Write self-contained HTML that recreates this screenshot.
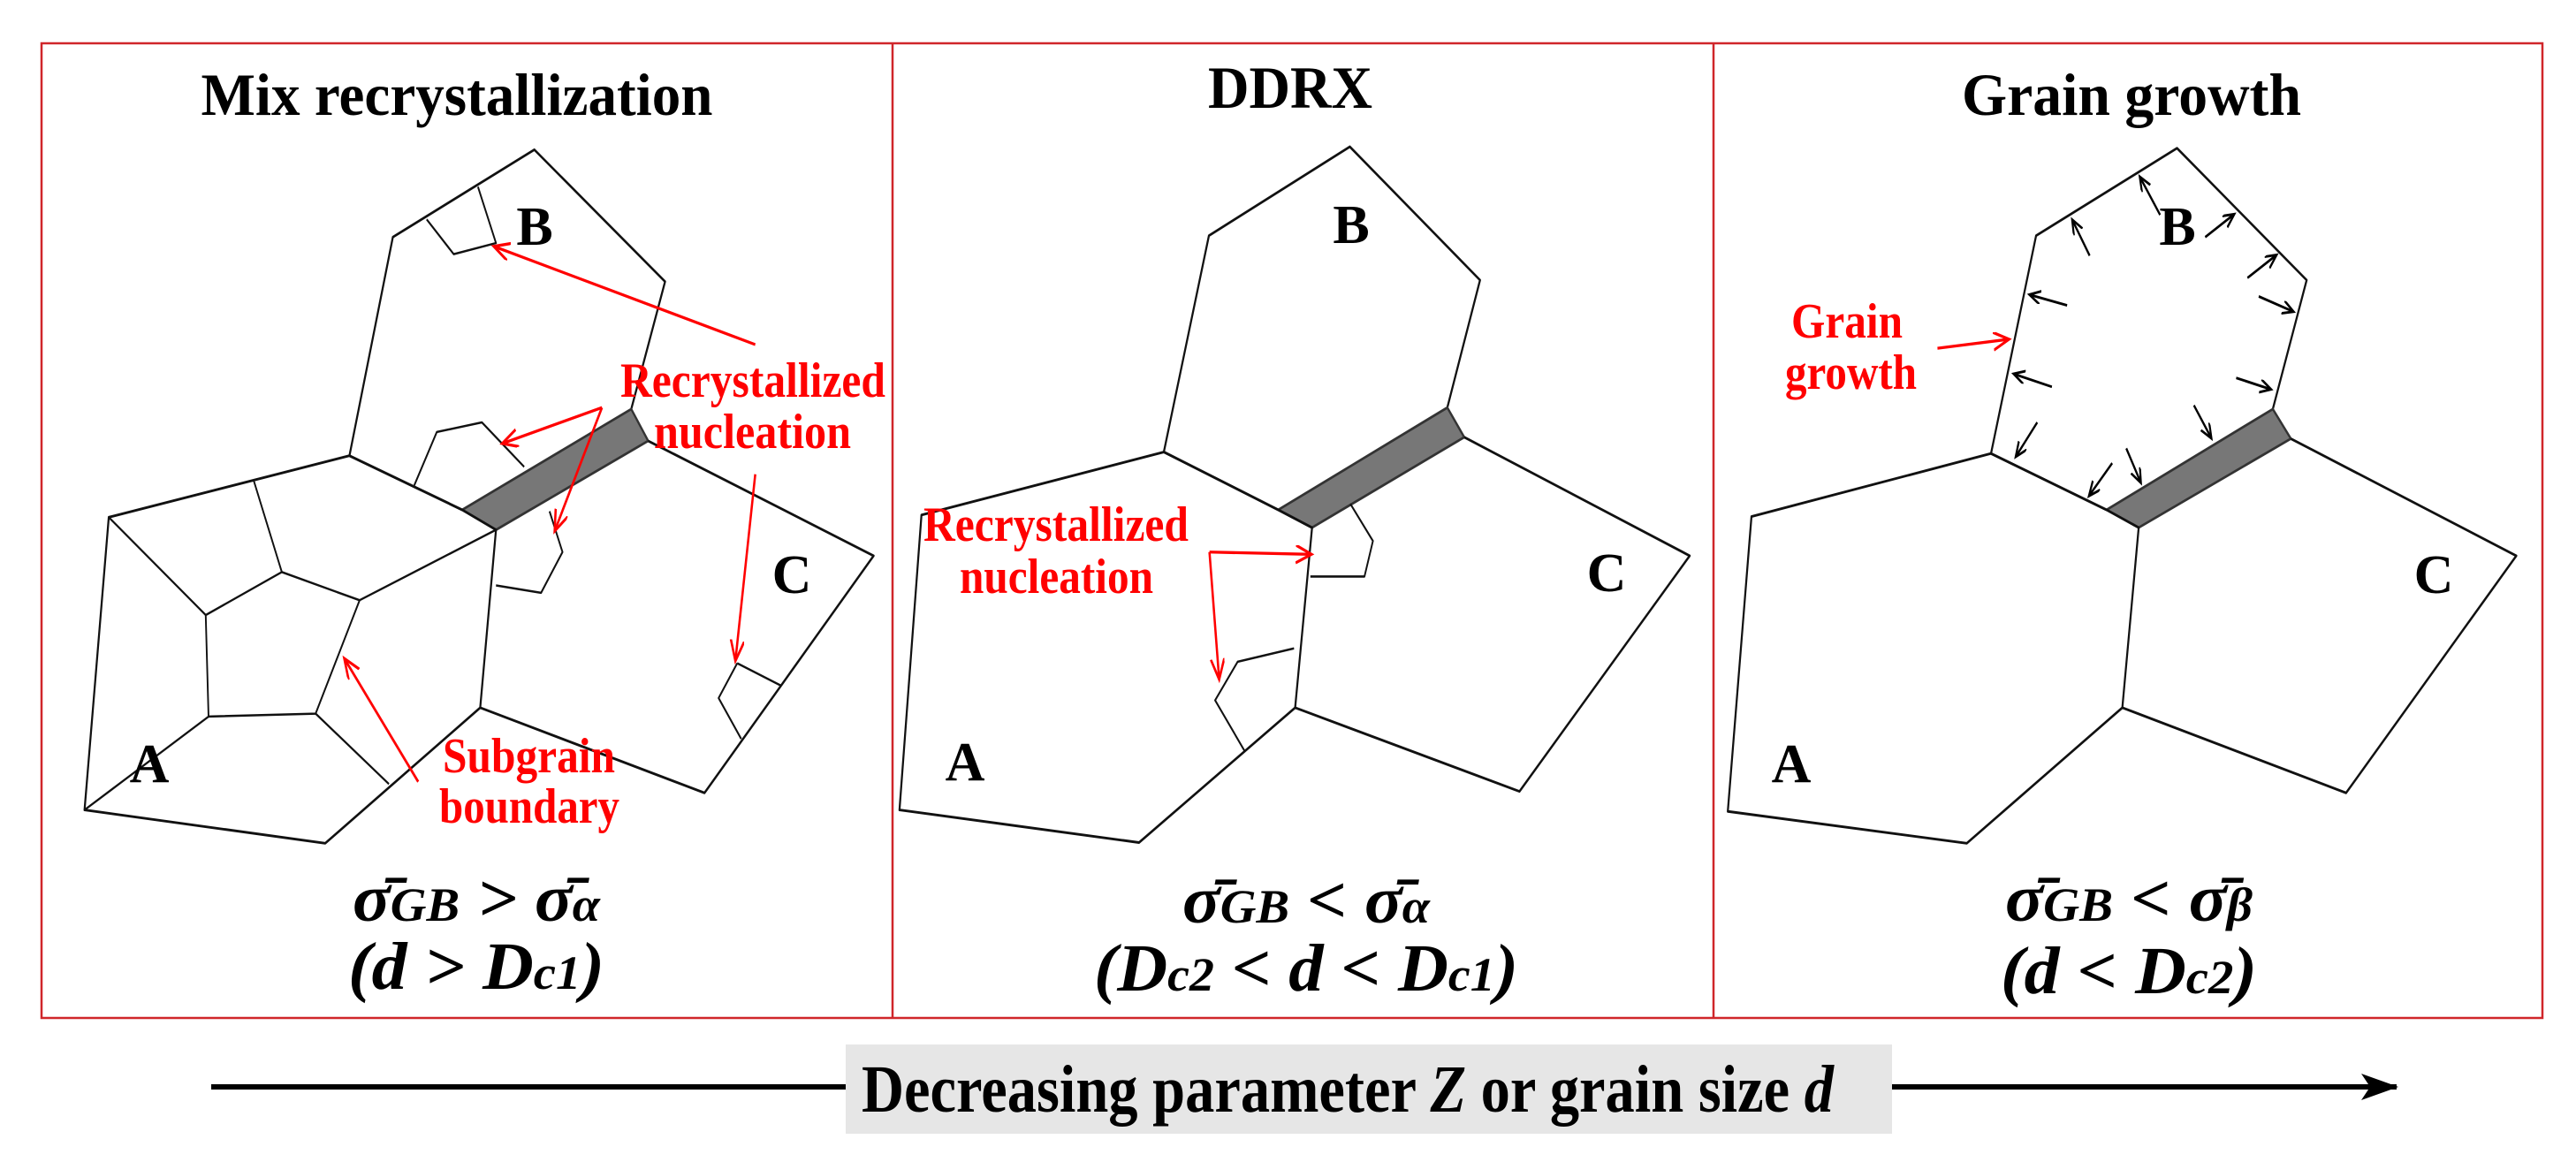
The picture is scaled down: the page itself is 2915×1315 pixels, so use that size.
<!DOCTYPE html>
<html><head><meta charset="utf-8"><style>
html,body{margin:0;padding:0;background:#fff;}
svg{display:block;}
.t{font-family:"Liberation Serif",serif;font-weight:bold;}
.f{font-family:"Liberation Serif","DejaVu Serif",serif;font-weight:bold;font-style:italic;}
</style></head><body>
<svg width="2915" height="1315" viewBox="0 0 2915 1315" xmlns="http://www.w3.org/2000/svg">
<defs>
<marker id="ra" markerUnits="userSpaceOnUse" markerWidth="40" markerHeight="30" refX="26" refY="12" orient="auto"><path d="M0,0 L28,12 L0,24" fill="none" stroke="#f00" stroke-width="4"/></marker>
<marker id="ka" markerUnits="userSpaceOnUse" markerWidth="30" markerHeight="24" refX="18" refY="9" orient="auto"><path d="M0,0 L20,9 L0,18" fill="none" stroke="#000" stroke-width="3.5"/></marker>
<marker id="kb" markerUnits="userSpaceOnUse" markerWidth="50" markerHeight="40" refX="40" refY="15" orient="auto"><path d="M0,0 L42,15 L0,30 L10,15Z" fill="#000"/></marker>
</defs>
<rect width="2915" height="1315" fill="#fff"/>
<g fill="none" stroke="#d0262a" stroke-width="2.5">
<rect x="47" y="49" width="2830" height="1103"/>
<line x1="1010" y1="49" x2="1010" y2="1152"/>
<line x1="1939" y1="49" x2="1939" y2="1152"/>
</g>

<g transform="translate(0,0) scale(0.6378,0.8386)">
<g fill="none" stroke="#111" stroke-width="3.5" stroke-linejoin="round">
<polyline points="620,615 697,320 948,202 1180,380 1120,552"/>
<polyline points="620,615 820,688"/>
<polygon points="820,688 1120,552 1150,595 880,715" fill="#777" stroke="#333"/>
<polygon points="193,698 620,615 820,688 880,715 852,955 577,1138 150,1093"/>
<polyline points="1150,595 1550,750 1250,1070 852,955"/>
<polygon points="365,830 500,772 638,810 560,963 370,967" stroke-width="3"/>
<g stroke-width="3">
<line x1="193" y1="698" x2="365" y2="830"/>
<line x1="450" y1="648" x2="500" y2="772"/>
<line x1="638" y1="810" x2="880" y2="715"/>
<line x1="560" y1="963" x2="690" y2="1058"/>
<line x1="370" y1="967" x2="150" y2="1093"/>
<polyline points="757,296 805,343 880,328 848,252"/>
<polyline points="735,655 775,583 855,570 930,630"/>
<polyline points="880,790 960,800 998,745 975,690"/>
<polyline points="1308,895 1385,925"/>
<polyline points="1308,895 1275,942 1315,997"/>
</g>
</g>
<g stroke="#f00" stroke-width="4" fill="none">
<line x1="1340" y1="465" x2="878" y2="333" marker-end="url(#ra)"/>
<line x1="1068" y1="550" x2="893" y2="598" marker-end="url(#ra)"/>
<line x1="1068" y1="550" x2="985" y2="715" marker-end="url(#ra)"/>
<line x1="1340" y1="640" x2="1305" y2="890" marker-end="url(#ra)"/>
<line x1="742" y1="1055" x2="612" y2="890" marker-end="url(#ra)"/>
</g>
</g>
<text class="t" x="517" y="130" font-size="68" text-anchor="middle" textLength="579" lengthAdjust="spacingAndGlyphs">Mix recrystallization</text>
<text class="t" x="702" y="449" font-size="56" fill="#f00" textLength="300" lengthAdjust="spacingAndGlyphs">Recrystallized</text>
<text class="t" x="740" y="507" font-size="56" fill="#f00" textLength="223" lengthAdjust="spacingAndGlyphs">nucleation</text>
<text class="t" x="501" y="874" font-size="56" fill="#f00" textLength="195" lengthAdjust="spacingAndGlyphs">Subgrain</text>
<text class="t" x="497" y="931" font-size="56" fill="#f00" textLength="204" lengthAdjust="spacingAndGlyphs">boundary</text>
<text class="t" x="605" y="277" font-size="62" text-anchor="middle">B</text>
<text class="t" x="896" y="671" font-size="62" text-anchor="middle">C</text>
<text class="t" x="169" y="885" font-size="62" text-anchor="middle">A</text>
<text class="f" x="539" y="1042" font-size="76" text-anchor="middle" textLength="280" lengthAdjust="spacingAndGlyphs">σ̄<tspan font-size="54">GB</tspan> &gt; σ̄<tspan font-size="54">α</tspan></text>
<text class="f" x="539" y="1119" font-size="76" text-anchor="middle" textLength="290" lengthAdjust="spacingAndGlyphs">(d &gt; D<tspan font-size="54">c1</tspan>)</text>

<g transform="translate(1000,0) scale(0.6378,0.8386)">
<g fill="none" stroke="#111" stroke-width="3.5" stroke-linejoin="round">
<polyline points="497,610 577,318 827,198 1058,378 1000,550"/>
<polyline points="497,610 700,688"/>
<polygon points="700,688 1000,550 1030,590 760,712" fill="#777" stroke="#333"/>
<polygon points="67,695 497,610 700,688 760,712 730,955 453,1137 28,1093"/>
<polyline points="1030,590 1430,750 1128,1068 730,955"/>
<g stroke-width="3">
<polyline points="828,680 868,730 853,778 757,778"/>
<polyline points="728,875 628,893 588,945 640,1013"/>
</g>
</g>
<g stroke="#f00" stroke-width="4" fill="none">
<line x1="578" y1="745" x2="757" y2="748" marker-end="url(#ra)"/>
<line x1="578" y1="745" x2="595" y2="915" marker-end="url(#ra)"/>
</g>
</g>
<text class="t" x="1460" y="122" font-size="68" text-anchor="middle" textLength="186" lengthAdjust="spacingAndGlyphs">DDRX</text>
<text class="t" x="1045" y="612" font-size="56" fill="#f00" textLength="300" lengthAdjust="spacingAndGlyphs">Recrystallized</text>
<text class="t" x="1086" y="671" font-size="56" fill="#f00" textLength="219" lengthAdjust="spacingAndGlyphs">nucleation</text>
<text class="t" x="1529" y="275" font-size="62" text-anchor="middle">B</text>
<text class="t" x="1818" y="669" font-size="62" text-anchor="middle">C</text>
<text class="t" x="1092" y="883" font-size="62" text-anchor="middle">A</text>
<text class="f" x="1478" y="1044" font-size="76" text-anchor="middle" textLength="280" lengthAdjust="spacingAndGlyphs">σ̄<tspan font-size="54">GB</tspan> &lt; σ̄<tspan font-size="54">α</tspan></text>
<text class="f" x="1478" y="1121" font-size="76" text-anchor="middle" textLength="480" lengthAdjust="spacingAndGlyphs">(D<tspan font-size="54">c2</tspan> &lt; d &lt; D<tspan font-size="54">c1</tspan>)</text>

<g transform="translate(1915,0) scale(0.6378,0.8386)">
<g fill="none" stroke="#111" stroke-width="3.5" stroke-linejoin="round">
<polyline points="530,612 610,318 860,200 1090,378 1030,552"/>
<polyline points="530,612 735,688"/>
<polygon points="735,688 1030,552 1062,592 792,712" fill="#777" stroke="#333"/>
<polygon points="105,697 530,612 735,688 792,712 763,955 487,1138 63,1095"/>
<polyline points="1062,592 1462,750 1160,1070 763,955"/>
</g>
<g stroke="#000" stroke-width="3.5">
<line x1="830" y1="290" x2="795" y2="240" marker-end="url(#ka)"/>
<line x1="705" y1="345" x2="675" y2="298" marker-end="url(#ka)"/>
<line x1="665" y1="412" x2="600" y2="398" marker-end="url(#ka)"/>
<line x1="638" y1="522" x2="572" y2="505" marker-end="url(#ka)"/>
<line x1="612" y1="570" x2="575" y2="615" marker-end="url(#ka)"/>
<line x1="745" y1="625" x2="705" y2="668" marker-end="url(#ka)"/>
<line x1="770" y1="605" x2="795" y2="650" marker-end="url(#ka)"/>
<line x1="890" y1="547" x2="920" y2="590" marker-end="url(#ka)"/>
<line x1="965" y1="510" x2="1025" y2="525" marker-end="url(#ka)"/>
<line x1="1005" y1="400" x2="1065" y2="420" marker-end="url(#ka)"/>
<line x1="985" y1="375" x2="1035" y2="345" marker-end="url(#ka)"/>
<line x1="910" y1="320" x2="960" y2="290" marker-end="url(#ka)"/>
</g>
<line x1="435" y1="470" x2="560" y2="458" stroke="#f00" stroke-width="4" marker-end="url(#ra)"/>
</g>
<text class="t" x="2412" y="130" font-size="68" text-anchor="middle" textLength="384" lengthAdjust="spacingAndGlyphs">Grain growth</text>
<text class="t" x="2027" y="382" font-size="56" fill="#f00" textLength="126" lengthAdjust="spacingAndGlyphs">Grain</text>
<text class="t" x="2020" y="440" font-size="56" fill="#f00" textLength="149" lengthAdjust="spacingAndGlyphs">growth</text>
<text class="t" x="2464" y="277" font-size="62" text-anchor="middle">B</text>
<text class="t" x="2754" y="671" font-size="62" text-anchor="middle">C</text>
<text class="t" x="2027" y="885" font-size="62" text-anchor="middle">A</text>
<text class="f" x="2409" y="1042" font-size="76" text-anchor="middle" textLength="280" lengthAdjust="spacingAndGlyphs">σ̄<tspan font-size="54">GB</tspan> &lt; σ̄<tspan font-size="54">β</tspan></text>
<text class="f" x="2409" y="1124" font-size="76" text-anchor="middle" textLength="290" lengthAdjust="spacingAndGlyphs">(d &lt; D<tspan font-size="54">c2</tspan>)</text>

<line x1="239" y1="1230" x2="960" y2="1230" stroke="#000" stroke-width="6"/>
<rect x="957" y="1182" width="1184" height="101" fill="#e6e6e6"/>
<line x1="2141" y1="1230" x2="2712" y2="1230" stroke="#000" stroke-width="6" marker-end="url(#kb)"/>
<text class="t" x="975" y="1258" font-size="76" textLength="1100" lengthAdjust="spacingAndGlyphs">Decreasing parameter <tspan font-style="italic">Z</tspan> or grain size <tspan font-style="italic">d</tspan></text>
</svg>
</body></html>
